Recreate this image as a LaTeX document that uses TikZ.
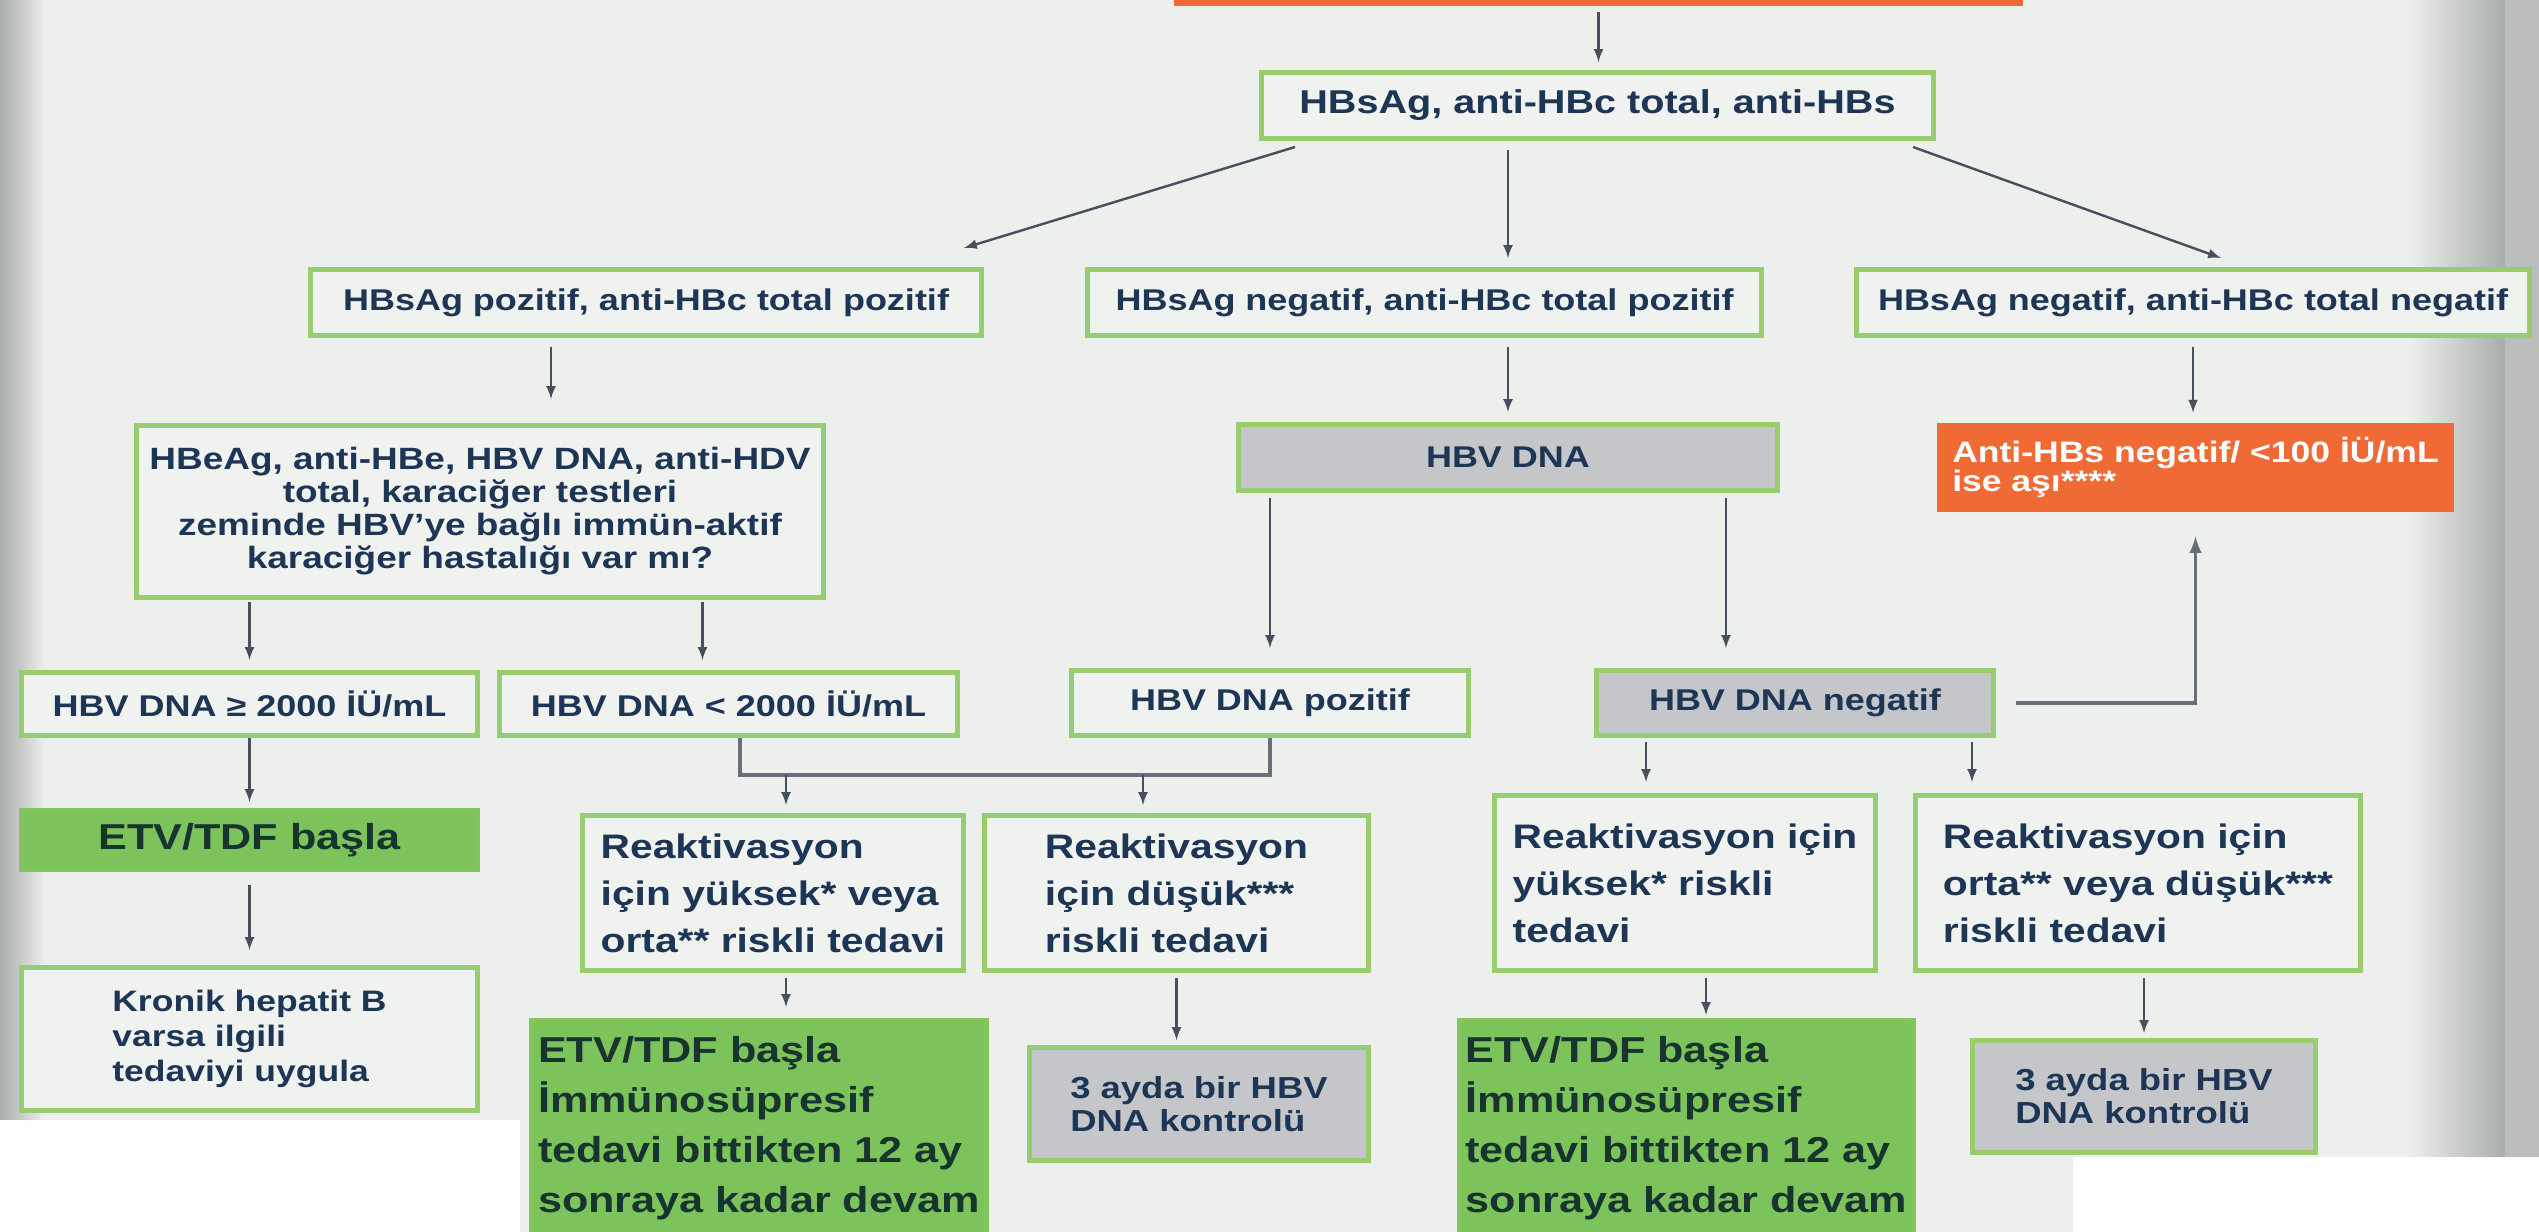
\documentclass[tikz,border=0pt]{standalone}
\usepackage{fontspec}
\setmainfont{Liberation Sans}[FakeStretch=1.2]
\usetikzlibrary{arrows}

\definecolor{bgcol}{HTML}{ECEFEC}
\definecolor{boxfill}{HTML}{F0F2F0}
\definecolor{boxgreen}{HTML}{97CD70}
\definecolor{etvgreen}{HTML}{7DC35B}
\definecolor{grayfill}{HTML}{C4C6CA}
\definecolor{orangefill}{HTML}{EF6A34}
\definecolor{navy}{HTML}{1E3656}
\definecolor{darktext}{HTML}{17342E}
\definecolor{linecol}{HTML}{44505E}
\definecolor{linkcol}{HTML}{66707A}
\definecolor{edgegray}{HTML}{A9ADAB}

\newcommand{\fsrow}{\bfseries\fontsize{15pt}{16.5pt}\selectfont}
\newcommand{\fstop}{\bfseries\fontsize{16.5pt}{18pt}\selectfont}
\newcommand{\fspanel}{\bfseries\fontsize{15.4pt}{16.5pt}\selectfont}
\newcommand{\fsasi}{\bfseries\fontsize{14.8pt}{14.5pt}\selectfont}
\newcommand{\fsreak}{\bfseries\fontsize{17pt}{23.5pt}\selectfont}
\newcommand{\fskronik}{\bfseries\fontsize{14.8pt}{17.5pt}\selectfont}
\newcommand{\fsctrl}{\bfseries\fontsize{15.2pt}{16.5pt}\selectfont}
\newcommand{\fsetv}{\bfseries\fontsize{18pt}{25pt}\selectfont}

\begin{document}
\begin{tikzpicture}[x=0.5pt, y=-0.5pt, >=latex,
    box/.style={draw=boxgreen, line width=2.5pt, fill=boxfill, text=navy, font=\fsrow, align=center, inner sep=2pt},
    grey/.style={box, fill=grayfill},
    etvbox/.style={box, draw=etvgreen!80!boxgreen, fill=etvgreen, text=darktext, font=\fsetv},
    orangebox/.style={fill=orangefill, text=white, font=\fsasi, align=left, inner sep=0pt},
    arr/.style={->, draw=linecol, line width=1.2pt},
    link/.style={draw=linkcol, line width=1.8pt}]
  \useasboundingbox (0,0) rectangle (2539,1232);
  \clip (0,0) rectangle (2539,1232);
  % page
  \fill[bgcol] (0,0) rectangle (2539,1232);
  \shade[left color=edgegray, right color=bgcol] (0,0) rectangle (45,1232);
  \shade[left color=bgcol, right color=edgegray] (2410,0) rectangle (2505,1157);
  \fill[edgegray!80!white] (2505,0) rectangle (2539,1157);
  \fill[white!96!bgcol] (0,1120) rectangle (520,1232);
  \fill[white!96!bgcol] (2073,1157) rectangle (2539,1232);

  % boxes
  \node[orangebox, minimum width=424.5pt, minimum height=30pt] (top) at (1598.5,-24) {};
  \node[box, font=\fstop, minimum width=336pt, minimum height=33pt] (tests) at (1597.5,105.5) {HBsAg, anti-HBc total, anti-HBs};
  \node[box, minimum width=335.5pt, minimum height=33pt] (pos) at (646,302.5) {HBsAg pozitif, anti-HBc total pozitif};
  \node[box, minimum width=337pt, minimum height=33pt] (negpos) at (1424.5,302.5) {HBsAg negatif, anti-HBc total pozitif};
  \node[box, minimum width=336.5pt, minimum height=33pt] (negneg) at (2193,302.5) {HBsAg negatif, anti-HBc total negatif};
  \node[box, font=\fspanel, minimum width=343.5pt, minimum height=86pt] (panel) at (480,511.5) {HBeAg, anti-HBe, HBV DNA, anti-HDV\\ total, karaciğer testleri\\ zeminde HBV’ye bağlı immün-aktif\\ karaciğer hastalığı var mı?};
  \node[grey, minimum width=269.5pt, minimum height=33pt] (dna) at (1508,457.5) {HBV DNA};
  \node[orangebox, minimum width=258.5pt, minimum height=44.5pt] (asi) at (2195.5,467.5) {Anti-HBs negatif/ <100 İÜ/mL\\ ise aşı****};
  \node[box, minimum width=228pt, minimum height=31.5pt] (high) at (249.5,704) {HBV DNA ≥ 2000 İÜ/mL};
  \node[box, minimum width=229pt, minimum height=31.5pt] (low) at (728.5,704) {HBV DNA < 2000 İÜ/mL};
  \node[box, minimum width=198.5pt, minimum height=32.5pt] (dnapos) at (1270,703) {HBV DNA pozitif};
  \node[grey, minimum width=198.5pt, minimum height=32.5pt] (dnaneg) at (1795,703) {HBV DNA negatif};
  \node[etvbox, minimum width=228pt, minimum height=29.5pt] (etv1) at (249.5,840) {ETV/TDF başla};
  \node[box, font=\fskronik, align=left, minimum width=228pt, minimum height=71.5pt] (kronik) at (249.5,1039) {Kronik hepatit B\\ varsa ilgili\\ tedaviyi uygula};
  \node[box, font=\fsreak, align=left, minimum width=190.5pt, minimum height=77.5pt] (reak1) at (773,893) {Reaktivasyon\\ için yüksek* veya\\ orta** riskli tedavi};
  \node[box, font=\fsreak, align=left, minimum width=192pt, minimum height=77.5pt] (reak2) at (1176.5,893) {Reaktivasyon\\ için düşük***\\ riskli tedavi};
  \node[box, font=\fsreak, align=left, minimum width=190.5pt, minimum height=87.5pt] (reak3) at (1685,883) {Reaktivasyon için\\ yüksek* riskli\\ tedavi};
  \node[box, font=\fsreak, align=left, minimum width=222.5pt, minimum height=87.5pt] (reak4) at (2138,883) {Reaktivasyon için\\ orta** veya düşük***\\ riskli tedavi};
  \node[etvbox, align=left, anchor=north, inner ysep=8pt, minimum width=227.5pt] (etv2) at (759,1018) {ETV/TDF başla\\ İmmünosüpresif\\ tedavi bittikten 12 ay\\ sonraya kadar devam\\ \mbox{}};
  \node[grey, font=\fsctrl, align=left, minimum width=169.5pt, minimum height=56.5pt] (ctrl1) at (1199,1104) {3 ayda bir HBV\\ DNA kontrolü};
  \node[etvbox, align=left, anchor=north, inner ysep=8pt, minimum width=227pt] (etv3) at (1686.5,1018) {ETV/TDF başla\\ İmmünosüpresif\\ tedavi bittikten 12 ay\\ sonraya kadar devam\\ \mbox{}};
  \node[grey, font=\fsctrl, align=left, minimum width=171.5pt, minimum height=56pt] (ctrl2) at (2144,1096.5) {3 ayda bir HBV\\ DNA kontrolü};

  % arrows
  \draw[arr, shorten <=3pt, shorten >=4pt] (top.south) -- (top.south |- tests.north);
  \draw[arr] ([shift={(18pt,-3pt)}]tests.south west) -- ([shift={(-10pt,9.5pt)}]pos.north east);
  \draw[arr, shorten <=4.5pt, shorten >=4.5pt] (tests.south -| dna.north) -- (negpos.north -| dna.north);
  \draw[arr] ([shift={(-11.5pt,-3pt)}]tests.south east) -- ([shift={(14pt,4.5pt)}]negneg.north);
  \draw[arr, shorten <=4.5pt, shorten >=12pt] ([xshift=-47.5pt]pos.south) -- ([xshift=-47.5pt]pos.south |- panel.north);
  \draw[arr, shorten <=4.5pt, shorten >=5pt] (negpos.south -| dna.north) -- (dna.north);
  \draw[arr, shorten <=4.5pt, shorten >=5pt] (negneg.south) -- (negneg.south |- asi.north);
  \draw[arr, shorten <=1pt, shorten >=5pt] (high.north |- panel.south) -- (high.north);
  \draw[arr, shorten <=1pt, shorten >=5pt] ([xshift=-13pt]low.north |- panel.south) -- ([xshift=-13pt]low.north);
  \draw[arr, shorten <=2.5pt, shorten >=10pt] (dnapos.north |- dna.south) -- (dnapos.north);
  \draw[arr, shorten <=2.5pt, shorten >=10pt] ([xshift=-34.5pt]dnaneg.north |- dna.south) -- ([xshift=-34.5pt]dnaneg.north);
  \draw[link, ->, shorten <=10pt, shorten >=12pt] (dnaneg.east) -| (asi.south);
  \draw[arr, shorten >=3pt] (high.south) -- (etv1.north);
  \draw[arr, shorten <=6.5pt, shorten >=7.5pt] (etv1.south) -- (kronik.north);
  \coordinate (jn) at (1000,775);
  \draw[link] ([xshift=5.75pt]low.south) |- (jn) -| (dnapos.south);
  \draw[arr, shorten >=4pt] ([xshift=6.5pt]reak1.north |- jn) -- ([xshift=6.5pt]reak1.north);
  \draw[arr, shorten >=4pt] ([xshift=-16.75pt]reak2.north |- jn) -- ([xshift=-16.75pt]reak2.north);
  \draw[arr, shorten <=2pt, shorten >=5.5pt] ([xshift=-19.5pt]reak3.north |- dnaneg.south) -- ([xshift=-19.5pt]reak3.north);
  \draw[arr, shorten <=2pt, shorten >=5.5pt] ([xshift=-83pt]reak4.north |- dnaneg.south) -- ([xshift=-83pt]reak4.north);
  \draw[arr, shorten <=2.5pt, shorten >=5.5pt] ([xshift=6.5pt]reak1.south) -- ([xshift=6.5pt]reak1.south |- etv2.north);
  \draw[arr, shorten <=2.5pt, shorten >=2.5pt] (reak2.south) -- (reak2.south |- ctrl1.north);
  \draw[arr, shorten <=2.5pt, shorten >=1.5pt] ([xshift=10.5pt]reak3.south) -- ([xshift=10.5pt]reak3.south |- etv3.north);
  \draw[arr, shorten <=2.5pt, shorten >=2.5pt] (ctrl2.north |- reak4.south) -- (ctrl2.north);
\end{tikzpicture}
\end{document}
